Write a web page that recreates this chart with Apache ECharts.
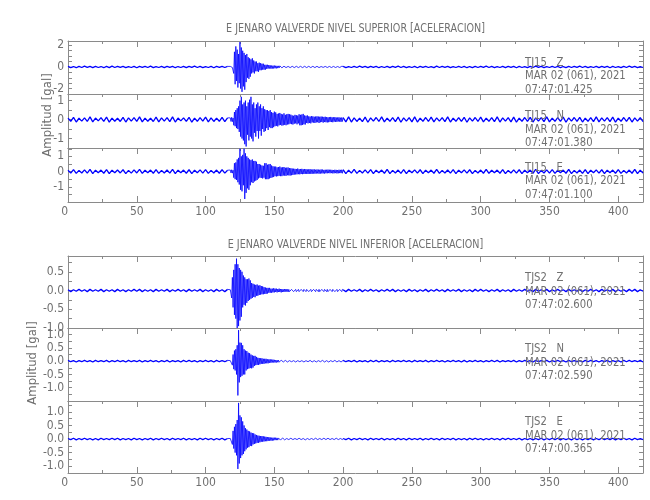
<!DOCTYPE html>
<html><head><meta charset="utf-8">
<script src="https://cdn.jsdelivr.net/npm/echarts@6/dist/echarts.min.js"></script>
<style>html,body{margin:0;padding:0;background:#fff}#c{width:650px;height:500px}</style>
</head><body><div id="c"></div><script>
// ---- sampling (seconds) ----
const preStart = 0, preStep = 2;      // quiet part before the event
const evtStart = 118, evtStep = 0.5;  // event window
const postStart = 200, postStep = 2;  // quiet part after the event
const xMin = 0, xMax = 418;
const xTickLabels = [0, 50, 100, 150, 200, 250, 300, 350, 400];

// ---- texts ----
const titleUp = 'E JENARO VALVERDE NIVEL SUPERIOR [ACELERACION]';
const titleLow = 'E JENARO VALVERDE NIVEL INFERIOR [ACELERACION]';
const yName = 'Amplitud [gal]';
const stations = ['TJ15   Z', 'TJ15   N', 'TJ15   E', 'TJS2   Z', 'TJS2   N', 'TJS2   E'];
const dates = ['MAR 02 (061), 2021', 'MAR 02 (061), 2021', 'MAR 02 (061), 2021', 'MAR 02 (061), 2021', 'MAR 02 (061), 2021', 'MAR 02 (061), 2021'];
const startTimes = ['07:47:01.425', '07:47:01.380', '07:47:01.100', '07:47:02.600', '07:47:02.590', '07:47:00.365'];

// ---- y tick labels per panel ----
const yLabelsUZ = [-2, 0, 2];
const yLabelsUN = [-1, 0, 1];
const yLabelsUE = [-1, 0, 1];
const yLabelsLZ = [-1.0, -0.5, 0.0, 0.5];
const yLabelsLN = [-1.0, -0.5, 0.0, 0.5, 1.0];
const yLabelsLE = [-1.0, -0.5, 0.0, 0.5, 1.0];

// ---- TJ15 Z (gal) ----
const uzPre = [.05,-.06,.04,-.07,.06,-.05,.07,-.04,.05,-.06,.06,-.05,.04,-.07,.05,-.06,.07,-.05,.06,-.04,.05,-.06,.04,-.05,.06,-.07,.05,-.04,.06,-.05,.07,-.06,.04,-.05,.05,-.06,.06,-.04,.05,-.07,.04,-.05,.06,-.06,.05,-.04,.07,-.05,.05,-.06,.04,-.05,.06,-.07,.05,-.04,.06,-.05,.05];
const uzEvt = [.05,-.04,.06,-.05,.04,-.6,1.4,-1.6,1.9,-1.3,1.6,-1.9,1.2,-1.5,2.3,-2.0,1.8,-2.3,1.5,-1.8,1.3,-2.1,1.1,-1.4,1.2,-1.0,.9,-1.1,.8,-.9,.7,-.6,.8,-.5,.6,-.6,.5,-.4,.5,-.4,.35,-.45,.4,-.3,.35,-.3,.3,-.25,.3,-.25,.2,-.25,.2,-.18,.2,-.15,.18,-.14,.15,-.16,.13,-.15,.12,-.14,.13,-.12,.11,-.13,.1,-.11,.1,-.09,.1,-.08,.09,-.08,.07,-.08,.07,-.06,.07,-.06,.06,-.07,.05,-.06,.05,-.06,.05,-.05,.06,-.05,.05,-.06,.04,-.05,.06,-.04,.05,-.06,.05,-.04,.06,-.05,.05,-.06,.04,-.05,.06,-.05,.04,-.06,.05,-.05,.06,-.04,.05,-.06,.05,-.04,.06,-.05,.04,-.06,.05,-.05,.06,-.04,.05,-.06,.05,-.05,.04,-.06,.05,-.04,.06,-.05,.05,-.06,.04,-.05,.06,-.04,.05,-.06,.05,-.05,.04,-.06,.05,-.04,.06,-.05,.05,-.06,.04,-.05,.06,-.05,.05,-.04,.06,-.05];
const uzPost = [.05,-.06,.04,-.05,.06,-.05,.07,-.04,.05,-.06,.06,-.04,.05,-.07,.04,-.05,.06,-.06,.05,-.04,.07,-.05,.05,-.06,.04,-.05,.06,-.07,.05,-.04,.06,-.05,.04,-.06,.07,-.05,.05,-.04,.06,-.06,.04,-.05,.06,-.05,.05,-.07,.04,-.06,.05,-.05,.06,-.04,.07,-.05,.05,-.06,.04,-.05,.06,-.06,.05,-.04,.06,-.07,.05,-.05,.04,-.06,.06,-.05,.07,-.04,.05,-.06,.04,-.05,.06,-.05,.05,-.07,.04,-.06,.05,-.05,.06,-.04,.07,-.05,.05,-.06,.04,-.05,.06,-.06,.05,-.04,.06,-.07,.05,-.05,.04,-.06,.06,-.05,.07,-.04,.05,-.06,.04,-.05];

// ---- TJ15 N (gal) ----
const unPre = [.08,-.09,.12,-.13,.07,-.08,.09,-.1,.14,-.12,.08,-.07,.1,-.09,.13,-.14,.08,-.09,.07,-.1,.12,-.13,.09,-.08,.1,-.09,.14,-.12,.08,-.09,.07,-.1,.13,-.12,.09,-.08,.1,-.11,.14,-.13,.08,-.07,.09,-.1,.12,-.14,.08,-.09,.1,-.08,.13,-.12,.09,-.1,.08,-.09,.12,-.11,.09];
const unEvt = [.09,-.1,.12,-.11,.08,-.3,.4,-.35,.5,-.45,.6,-.5,.7,-.65,1.0,-.9,1.2,-1.0,.8,-1.1,.9,-1.3,1.0,-1.42,.7,-.8,.9,-1.1,1.05,-.9,1.2,-1.0,.8,-1.15,.9,-.7,.6,-.9,.8,-.6,.9,-1.0,.7,-.6,.8,-.85,.6,-.5,.7,-.65,.55,-.6,.5,-.45,.5,-.55,.45,-.4,.5,-.45,.4,-.45,.35,-.4,.42,-.35,.38,-.33,.3,-.36,.32,-.3,.35,-.28,.3,-.32,.27,-.3,.33,-.28,.25,-.3,.28,-.26,.3,-.25,.28,-.22,.26,-.24,.22,-.26,.2,-.22,.25,-.2,.23,-.25,.21,-.2,.28,-.3,.25,-.3,.27,-.28,.3,-.25,.22,-.26,.2,-.18,.22,-.2,.17,-.18,.16,-.2,.18,-.15,.17,-.16,.15,-.18,.16,-.15,.17,-.14,.16,-.18,.15,-.14,.16,-.13,.15,-.16,.14,-.13,.15,-.14,.13,-.15,.12,-.14,.13,-.12,.14,-.13,.12,-.14,.12,-.11,.13,-.12,.11,-.12,.11,-.1,.12,-.11,.1,-.12,.11,-.1];
const unPost = [.1,-.12,.14,-.13,.09,-.1,.08,-.11,.13,-.14,.09,-.08,.11,-.1,.14,-.12,.08,-.09,.1,-.11,.13,-.14,.09,-.08,.1,-.12,.14,-.13,.08,-.09,.11,-.1,.13,-.12,.09,-.08,.1,-.11,.14,-.13,.08,-.09,.1,-.1,.12,-.14,.09,-.08,.11,-.1,.13,-.12,.08,-.09,.1,-.11,.14,-.13,.09,-.08,.1,-.12,.13,-.14,.08,-.09,.11,-.1,.12,-.13,.09,-.08,.1,-.11,.14,-.12,.08,-.09,.1,-.1,.13,-.14,.09,-.08,.11,-.1,.12,-.13,.08,-.09,.1,-.11,.14,-.12,.09,-.08,.1,-.11,.13,-.14,.08,-.09,.11,-.1,.12,-.13,.09,-.08,.1,-.11];

// ---- TJ15 E (gal) ----
const uePre = [.09,-.1,.13,-.12,.08,-.09,.11,-.1,.14,-.13,.09,-.08,.1,-.11,.13,-.14,.09,-.08,.1,-.09,.12,-.13,.08,-.1,.11,-.09,.14,-.12,.09,-.08,.1,-.11,.13,-.12,.08,-.09,.1,-.1,.14,-.13,.09,-.08,.1,-.11,.12,-.13,.09,-.08,.11,-.1,.13,-.12,.08,-.09,.1,-.11,.12,-.1,.09];
const ueEvt = [.1,-.09,.12,-.1,.09,-.4,.55,-.5,.6,-.55,.8,-.7,.9,-.85,1.5,-1.2,1.0,-1.3,1.1,-.9,1.5,-1.8,1.2,-1.4,1.0,-1.1,.9,-1.2,.8,-.9,.75,-.7,.8,-.75,.7,-.65,.7,-.6,.65,-.55,.5,-.45,.5,-.4,.45,-.42,.4,-.45,.38,-.4,.55,-.5,.55,-.5,.45,-.5,.48,-.45,.5,-.42,.4,-.38,.35,-.36,.33,-.3,.33,-.32,.28,-.3,.3,-.28,.33,-.3,.27,-.3,.28,-.26,.3,-.27,.25,-.28,.26,-.24,.27,-.25,.23,-.26,.22,-.24,.2,-.22,.19,-.2,.18,-.19,.17,-.18,.2,-.17,.16,-.18,.17,-.16,.18,-.17,.15,-.16,.17,-.15,.16,-.15,.14,-.16,.15,-.14,.16,-.15,.13,-.15,.14,-.13,.15,-.14,.12,-.13,.14,-.12,.13,-.14,.12,-.13,.14,-.12,.13,-.12,.11,-.13,.12,-.11,.12,-.11,.13,-.1,.12,-.11,.12,-.1,.11,-.12,.1,-.11,.12,-.1,.11,-.12,.1,-.11,.12,-.1,.11,-.1,.12,-.11];
const uePost = [.12,-.13,.09,-.1,.14,-.12,.08,-.09,.11,-.1,.13,-.14,.09,-.08,.1,-.11,.14,-.13,.08,-.09,.1,-.12,.13,-.14,.09,-.08,.11,-.1,.12,-.13,.09,-.08,.1,-.11,.14,-.12,.08,-.09,.1,-.1,.13,-.14,.09,-.08,.11,-.1,.12,-.13,.08,-.09,.1,-.11,.14,-.12,.09,-.08,.1,-.11,.13,-.14,.08,-.09,.11,-.1,.12,-.13,.09,-.08,.1,-.11,.14,-.13,.08,-.09,.11,-.1,.13,-.12,.09,-.08,.1,-.11,.14,-.13,.08,-.09,.1,-.12,.13,-.14,.09,-.08,.11,-.1,.12,-.13,.09,-.08,.1,-.11,.13,-.12,.08,-.09,.1,-.11,.14,-.13,.09,-.1];

// ---- TJS2 Z (gal) ----
const lzPre = [.02,-.03,.02,-.02,.03,-.02,.02,-.03,.03,-.02,.02,-.02,.03,-.03,.02,-.02,.02,-.03,.03,-.02,.02,-.03,.02,-.02,.03,-.02,.03,-.03,.02,-.02,.02,-.03,.03,-.02,.02,-.02,.03,-.03,.02,-.02,.03,-.02,.02,-.03,.03,-.02,.02,-.02,.03,-.03,.02,-.02,.02,-.03,.03,-.02,.02,-.03,.03];
const lzEvt = [.02,-.03,-.2,.35,-.45,.55,-.65,.7,-.75,.85,-1.0,.7,-.95,.6,-.8,.55,-.7,.5,-.45,.4,-.38,.35,-.4,.3,-.33,.3,-.28,.32,-.25,.27,-.22,.2,-.2,.18,-.17,.16,-.18,.15,-.14,.16,-.14,.13,-.12,.14,-.11,.12,-.1,.11,-.1,.09,-.09,.08,-.09,.07,-.08,.07,-.06,.07,-.06,.05,-.06,.05,-.05,.06,-.05,.05,-.04,.05,-.05,.04,-.04,.05,-.04,.04,-.05,.04,-.04,.03,-.04,.04,-.03,.04,-.03,.03,-.04,.03,-.03,.02,-.03,.03,-.02,.03,-.03,.02,-.02,.03,-.03,.02,-.02,.03,-.03,.02,-.03,.03,-.02,.02,-.03,.03,-.02,.02,-.03,.03,-.02,.03,-.03,.02,-.02,.03,-.03,.02,-.02,.03,-.02,.02,-.03,.03,-.02,.02,-.03,.03,-.03,.02,-.02,.03,-.02,.02,-.03,.03,-.02,.02,-.03,.03,-.03,.02,-.02,.03,-.02,.02,-.03,.03,-.02,.03,-.03,.02,-.02,.03,-.03,.02,-.02,.03,-.02,.02,-.03,.03];
const lzPost = [.02,-.03,.03,-.02,.02,-.02,.03,-.03,.02,-.02,.03,-.02,.02,-.03,.02,-.02,.03,-.02,.03,-.03,.02,-.02,.02,-.03,.03,-.02,.02,-.03,.02,-.02,.03,-.03,.02,-.02,.03,-.02,.02,-.03,.03,-.02,.02,-.02,.03,-.03,.02,-.02,.02,-.03,.03,-.02,.03,-.02,.02,-.03,.02,-.02,.03,-.03,.02,-.02,.02,-.03,.03,-.02,.02,-.02,.03,-.02,.02,-.03,.03,-.02,.02,-.02,.03,-.03,.02,-.02,.03,-.02,.02,-.03,.03,-.02,.02,-.02,.03,-.03,.02,-.02,.03,-.02,.02,-.03,.03,-.02,.02,-.02,.03,-.03,.02,-.02,.02,-.03,.03,-.02,.03,-.03,.02,-.02];

// ---- TJS2 N (gal) ----
const lnPre = [.03,-.02,.02,-.03,.02,-.02,.03,-.02,.02,-.03,.03,-.02,.02,-.02,.03,-.03,.02,-.02,.03,-.02,.02,-.03,.03,-.02,.02,-.02,.03,-.03,.02,-.02,.03,-.02,.02,-.03,.02,-.02,.03,-.03,.02,-.02,.02,-.03,.03,-.02,.03,-.02,.02,-.03,.02,-.02,.03,-.02,.02,-.03,.03,-.02,.02,-.02,.03];
const lnEvt = [.02,-.02,.03,-.15,.25,-.3,.4,-.35,.45,-.5,.6,-1.29,1.17,-.8,.7,-.6,.69,-.55,.6,-.5,.45,-.5,.4,-.35,.38,-.3,.32,-.28,.3,-.26,.25,-.27,.22,-.24,.2,-.18,.2,-.15,.16,-.14,.13,-.14,.12,-.12,.11,-.1,.11,-.1,.09,-.1,.09,-.08,.09,-.08,.07,-.08,.07,-.06,.07,-.06,.06,-.05,.06,-.05,.05,-.05,.04,-.05,.04,-.04,.04,-.04,.03,-.04,.04,-.03,.04,-.03,.03,-.03,.03,-.02,.02,-.03,.03,-.02,.02,-.03,.02,-.02,.03,-.03,.02,-.02,.02,-.03,.03,-.02,.02,-.02,.03,-.02,.02,-.03,.02,-.02,.03,-.03,.02,-.02,.02,-.03,.03,-.02,.02,-.02,.03,-.02,.02,-.03,.03,-.02,.02,-.02,.03,-.03,.02,-.02,.02,-.03,.03,-.02,.02,-.02,.03,-.02,.02,-.03,.03,-.02,.02,-.02,.03,-.03,.02,-.02,.02,-.03,.03,-.02,.02,-.02,.03,-.02,.02,-.03,.03,-.02,.02,-.02,.03,-.03,.02,-.02];
const lnPost = [.03,-.02,.02,-.02,.03,-.03,.02,-.02,.02,-.03,.03,-.02,.03,-.03,.02,-.02,.02,-.03,.03,-.02,.02,-.02,.03,-.02,.02,-.03,.03,-.02,.02,-.02,.03,-.03,.02,-.02,.03,-.02,.02,-.03,.02,-.02,.03,-.02,.02,-.03,.03,-.03,.02,-.02,.03,-.02,.02,-.03,.02,-.02,.03,-.02,.03,-.03,.02,-.02,.02,-.02,.03,-.03,.02,-.02,.03,-.02,.02,-.03,.03,-.02,.02,-.02,.03,-.03,.02,-.02,.03,-.02,.02,-.03,.03,-.02,.02,-.02,.02,-.03,.03,-.02,.03,-.02,.02,-.03,.02,-.02,.03,-.03,.02,-.02,.02,-.03,.03,-.02,.03,-.02,.02,-.02,.03,-.03];

// ---- TJS2 E (gal) ----
const lePre = [.02,-.02,.03,-.03,.02,-.02,.03,-.02,.02,-.03,.02,-.03,.03,-.02,.02,-.02,.03,-.02,.03,-.03,.02,-.02,.02,-.03,.03,-.02,.02,-.03,.02,-.02,.03,-.03,.02,-.02,.03,-.02,.02,-.03,.03,-.02,.02,-.02,.03,-.03,.02,-.02,.02,-.03,.03,-.02,.03,-.02,.02,-.03,.02,-.02,.03,-.03,.02];
const leEvt = [.02,-.03,.02,-.2,.3,-.35,.45,-.5,.55,-.6,.7,-1.1,1.33,-.9,.87,-.7,.8,-.6,.65,-.55,.5,-.45,.4,-.38,.35,-.32,.3,-.3,.28,-.25,.24,-.26,.22,-.2,.21,-.18,.17,-.16,.15,-.14,.13,-.14,.12,-.12,.11,-.1,.11,-.1,.1,-.09,.09,-.08,.08,-.08,.07,-.07,.07,-.06,.06,-.06,.05,-.06,.05,-.05,.05,-.04,.05,-.04,.04,-.04,.04,-.03,.04,-.04,.03,-.03,.04,-.03,.03,-.03,.03,-.03,.02,-.02,.03,-.02,.02,-.03,.03,-.02,.02,-.02,.03,-.03,.02,-.02,.03,-.02,.02,-.03,.03,-.02,.02,-.02,.03,-.03,.02,-.02,.02,-.03,.03,-.02,.02,-.03,.02,-.02,.03,-.03,.02,-.02,.03,-.02,.02,-.02,.03,-.03,.02,-.02,.03,-.02,.02,-.03,.03,-.02,.02,-.02,.03,-.03,.02,-.02,.02,-.03,.03,-.02,.03,-.02,.02,-.03,.02,-.02,.03,-.02,.02,-.03,.03,-.02,.02,-.02,.03,-.03,.02,-.02,.03,-.02];
const lePost = [.02,-.02,.03,-.03,.02,-.02,.03,-.02,.02,-.03,.03,-.02,.02,-.02,.03,-.03,.02,-.02,.02,-.03,.03,-.02,.02,-.03,.03,-.02,.02,-.02,.03,-.03,.02,-.02,.03,-.02,.02,-.03,.03,-.02,.02,-.02,.03,-.03,.02,-.02,.02,-.03,.03,-.02,.03,-.02,.02,-.03,.02,-.02,.03,-.02,.02,-.03,.03,-.02,.03,-.02,.02,-.02,.03,-.03,.02,-.02,.02,-.03,.02,-.02,.03,-.03,.02,-.02,.03,-.02,.03,-.03,.02,-.02,.02,-.03,.03,-.02,.02,-.03,.02,-.02,.03,-.03,.02,-.02,.03,-.02,.02,-.02,.03,-.03,.02,-.02,.03,-.02,.02,-.03,.03,-.02,.02,-.02];

// ---- build (sample times from start + index * step) ----
function seg(vals, start, step) { return vals.map((v, i) => [start + i * step, v]); }
function buildTrace(pre, evt, post) {
  const a = seg(pre, preStart, preStep), b = seg(evt, evtStart, evtStep), c = seg(post, postStart, postStep);
  return {quiet: [a, c], event: [a[a.length - 1]].concat(b, [c[0]])};
}
const traces = [
  buildTrace(uzPre, uzEvt, uzPost), buildTrace(unPre, unEvt, unPost), buildTrace(uePre, ueEvt, uePost),
  buildTrace(lzPre, lzEvt, lzPost), buildTrace(lnPre, lnEvt, lnPost), buildTrace(lePre, leEvt, lePost)
];

const FONT = "'DejaVu Sans Condensed','DejaVu Sans',sans-serif";
const AX = '#8a8a8a', TX = '#707070', BLUE = '#0000ff';
const GL = 68, GR = 7;
const panels = [
  {top: 41, height: 53, min: -2.5, max: 2.4, step: 0.5, labels: yLabelsUZ, dec: 0, bottom: false, txt: 62.5},
  {top: 94, height: 54, min: -1.5, max: 1.35, step: 0.5, labels: yLabelsUN, dec: 0, bottom: false, txt: 116},
  {top: 148, height: 54, min: -2.0, max: 1.55, step: 0.5, labels: yLabelsUE, dec: 0, bottom: true, txt: 167.5},
  {top: 256, height: 72, min: -1.0, max: 0.92, step: 0.25, labels: yLabelsLZ, dec: 1, bottom: false, txt: 278},
  {top: 328, height: 73, min: -1.5, max: 1.25, step: 0.25, labels: yLabelsLN, dec: 1, bottom: false, txt: 349},
  {top: 401, height: 72, min: -1.25, max: 1.4, step: 0.25, labels: yLabelsLE, dec: 1, bottom: true, txt: 422}
];
const grid = [], xAxis = [], yAxis = [], series = [], graphic = [];
const lblStyle = {color: TX, fontFamily: FONT, fontSize: 12};
const line = {onZero: false, show: true, lineStyle: {color: AX, width: 1}};
panels.forEach((p, k) => {
  grid.push({left: GL, right: GR, top: p.top, height: p.height});
  xAxis.push({
    gridIndex: k, type: 'value', position: 'bottom', min: xMin, max: xMax, interval: 50,
    axisLine: line,
    axisTick: {show: p.bottom, inside: true, length: 6, lineStyle: {color: AX}},
    minorTick: {show: p.bottom, splitNumber: 2, length: 3, lineStyle: {color: AX}},
    axisLabel: {show: p.bottom, margin: 4, alignMinLabel: 'right', ...lblStyle,
      formatter: v => xTickLabels.includes(v) ? String(v) : ''},
    splitLine: {show: false}
  });
  xAxis.push({
    gridIndex: k, type: 'value', position: 'top', min: xMin, max: xMax, interval: 50,
    axisLine: line,
    axisTick: {show: true, inside: true, length: 6, lineStyle: {color: AX}},
    minorTick: {show: true, splitNumber: 2, length: 3, lineStyle: {color: AX}},
    axisLabel: {show: false}, splitLine: {show: false}
  });
  yAxis.push({
    gridIndex: k, type: 'value', position: 'left', min: p.min, max: p.max, interval: p.step,
    axisLine: line,
    axisTick: {show: true, inside: true, length: 4, lineStyle: {color: AX}},
    axisLabel: {show: true, margin: 4, ...lblStyle,
      formatter: v => p.labels.some(l => Math.abs(l - v) < 1e-6) ? v.toFixed(p.dec) : ''},
    splitLine: {show: false}
  });
  yAxis.push({
    gridIndex: k, type: 'value', position: 'right', min: p.min, max: p.max, interval: p.step,
    axisLine: line,
    axisTick: {show: true, inside: true, length: 4, lineStyle: {color: AX}},
    axisLabel: {show: false}, splitLine: {show: false}
  });
  const base = {type: 'line', xAxisIndex: 2 * k, yAxisIndex: 2 * k, showSymbol: false, symbol: 'none', silent: true, clip: true};
  traces[k].quiet.forEach(d => series.push({...base, data: d, lineStyle: {color: BLUE, width: 1.3}}));
  series.push({...base, data: traces[k].event, lineStyle: {color: BLUE, width: 0.8}});
  [stations[k], dates[k], startTimes[k]].forEach((t, j) => {
    graphic.push({type: 'text', x: 525, y: p.txt + j * 13.5, scaleX: 0.86, z: 10,
      style: {text: t, fill: TX, font: '13px ' + FONT, textAlign: 'left', textVerticalAlign: 'middle'}});
  });
});
const tStyle = t => ({text: t, fill: TX, font: '13px ' + FONT, textAlign: 'center', textVerticalAlign: 'middle'});
graphic.push({type: 'text', x: 355.5, y: 28.5, scaleX: 0.82, style: tStyle(titleUp)});
graphic.push({type: 'text', x: 355.5, y: 245, scaleX: 0.82, style: tStyle(titleLow)});
graphic.push({type: 'text', x: 48, y: 115, rotation: Math.PI / 2, style: tStyle(yName)});
graphic.push({type: 'text', x: 33, y: 363, rotation: Math.PI / 2, style: tStyle(yName)});

const chart = echarts.init(document.getElementById('c'), null, {renderer: 'canvas'});
chart.setOption({animation: false, backgroundColor: '#fff', grid, xAxis, yAxis, series, graphic});
</script></body></html>
